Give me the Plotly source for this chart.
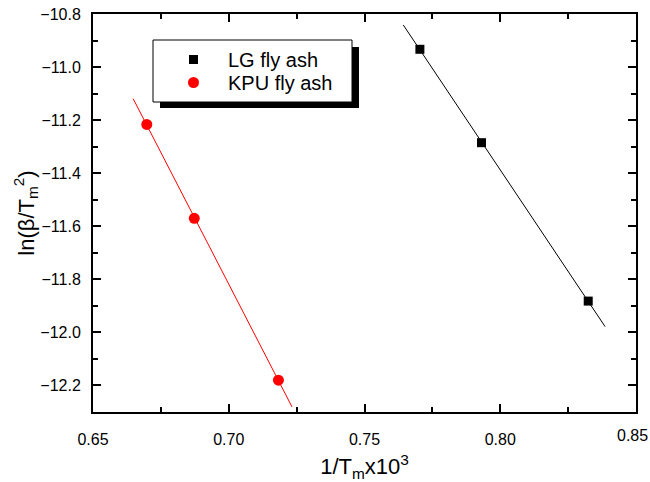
import numpy as np
import plotly.graph_objects as go

lg_x = [0.7704, 0.7931, 0.8324]
lg_y = [-10.933, -11.285, -11.882]
kpu_x = [0.6698, 0.6873, 0.7183]
kpu_y = [-11.216, -11.570, -12.180]
lg_fit_range = [0.7643, 0.8386]
kpu_fit_range = [0.6648, 0.7233]
x_ticks = [0.65, 0.70, 0.75, 0.80, 0.85]
x_ticklabels = ["0.65", "0.70", "0.75", "0.80", "0.85"]

W, H = 650, 482
L, R, T, B = 93, 636, 14, 412
PW, PH = R - L, B - T

def px2paper(x, y):
    return (x - L) / PW, (B - y) / PH

def fit(xs, ys, rng):
    k, b = np.polyfit(xs, ys, 1)
    xx = np.array(rng)
    return xx, k * xx + b

fig = go.Figure()
fx, fy = fit(lg_x, lg_y, lg_fit_range)
fig.add_trace(go.Scatter(x=fx, y=fy, mode="lines", line=dict(color="black", width=1), showlegend=False, hoverinfo="skip"))
fx, fy = fit(kpu_x, kpu_y, kpu_fit_range)
fig.add_trace(go.Scatter(x=fx, y=fy, mode="lines", line=dict(color="red", width=1), showlegend=False, hoverinfo="skip"))
fig.add_trace(go.Scatter(x=lg_x, y=lg_y, mode="markers", name="LG fly ash", legend="legend",
                         marker=dict(symbol="square", size=9, color="black")))
fig.add_trace(go.Scatter(x=kpu_x, y=kpu_y, mode="markers", name="KPU fly ash", legend="legend2",
                         marker=dict(symbol="circle", size=11, color="red")))

FONT = "Liberation Sans, Arial"
TICKFONT = dict(family=FONT, size=16, color="black")
axis_common = dict(showline=True, linecolor="black", linewidth=2, mirror="allticks",
                   ticks="inside", ticklen=8, tickwidth=1.5, tickcolor="black",
                   showgrid=False, zeroline=False, automargin=False,
                   ticklabeloverflow="allow", tickfont=TICKFONT)

# last x tick label is placed as an annotation so it stays inside the page
fig.update_xaxes(range=[0.65, 0.85], tickvals=x_ticks, ticktext=x_ticklabels[:-1] + [""],
                 ticklabelstandoff=12,
                 minor=dict(ticks="inside", ticklen=5, tickwidth=1.5, tickcolor="black", dtick=0.025, tick0=0.65),
                 title=dict(text="1/T<sub>m</sub>x10<sup>3</sup>", font=dict(family=FONT, size=22, color="black"), standoff=16),
                 **axis_common)
fig.add_annotation(x=x_ticks[-1], y=0, xref="x", yref="paper", text=x_ticklabels[-1],
                   showarrow=False, xanchor="right", yanchor="top", xshift=14, yshift=-13,
                   font=TICKFONT)
fig.update_yaxes(range=[-12.3, -10.8], dtick=0.2, tick0=-10.8, tickformat=".1f",
                 ticklabelstandoff=7,
                 minor=dict(ticks="inside", ticklen=5, tickwidth=1.5, tickcolor="black", dtick=0.1, tick0=-10.8),
                 title=dict(text="ln(β/T<sub>m</sub><sup>2</sup>)", font=dict(family=FONT, size=22, color="black"), standoff=0),
                 **axis_common)

# legend shadow and box
sx0, sy0 = px2paper(160, 108)
sx1, sy1 = px2paper(359, 47)
fig.add_shape(type="rect", xref="paper", yref="paper", x0=sx0, x1=sx1, y0=sy0, y1=sy1,
              fillcolor="black", line=dict(width=0), layer="above")
bx0, by0 = px2paper(153, 102)
bx1, by1 = px2paper(352, 40)
fig.add_shape(type="rect", xref="paper", yref="paper", x0=bx0, x1=bx1, y0=by0, y1=by1,
              fillcolor="white", line=dict(color="black", width=1), layer="above")

leg_common = dict(xanchor="left", yanchor="top", bgcolor="rgba(0,0,0,0)", borderwidth=0,
                  font=dict(family=FONT, size=20, color="black"), itemwidth=59)
l1x, l1y = px2paper(159, 40)
l2x, l2y = px2paper(159, 63)
fig.update_layout(
    width=W, height=H,
    margin=dict(l=L, r=W - R, t=T, b=H - B),
    plot_bgcolor="white", paper_bgcolor="white",
    legend=dict(x=l1x, y=l1y, **leg_common),
    legend2=dict(x=l2x, y=l2y, **leg_common),
)

fig.write_html("out.html", config={"displayModeBar": False},
               post_script="document.body.style.margin='0';")
